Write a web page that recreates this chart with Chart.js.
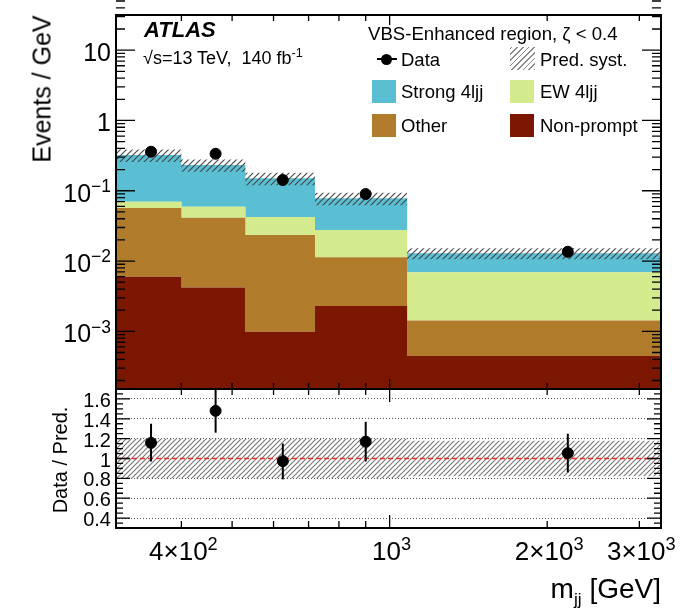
<!DOCTYPE html>
<html>
<head>
<meta charset="utf-8">
<script src="https://cdn.jsdelivr.net/npm/chart.js@4.4.1/dist/chart.umd.min.js"></script>
<style>
  body { margin: 0; background: #fff; width: 682px; height: 608px; overflow: hidden; position: relative;
         font-family: "Liberation Sans", Arial, Helvetica, sans-serif; }
  canvas { position: absolute; left: 0; }
  .lbl { position: absolute; white-space: nowrap; color: #000; line-height: 1; }
  .lbl sup { font-size: 0.7em; vertical-align: 0; position: relative; top: -0.55em; }
  .sw { position: absolute; }
</style>
</head>
<body>
<canvas id="mainChart" width="682" height="400" style="top:0"></canvas>
<canvas id="ratioChart" width="682" height="228" style="top:380px"></canvas>
<script>
// m_jj bins (GeV)
const binEdges = [300, 400, 530, 720, 1080, 3300];

// Events / GeV per process
const nonPrompt = [0.0060, 0.0042, 0.00099, 0.0023, 0.000445];
const other = [0.0508, 0.0371, 0.0224, 0.0090, 0.00098];
const ew4ljj = [0.0130, 0.0179, 0.0189, 0.0163, 0.0055];
const strong4ljj = [0.252, 0.173, 0.108, 0.0504, 0.0060];
const predSyst = [0.20, 0.20, 0.20, 0.20, 0.18];

// data
const dataX = [350, 465, 625, 900, 2190];
const dataY = [0.359, 0.336, 0.142, 0.0898, 0.01356];
const ratio = [1.157, 1.48, 0.973, 1.17, 1.054];
const ratioLo = [0.97, 1.26, 0.79, 0.97, 0.86];
const ratioHi = [1.35, 1.72, 1.15, 1.37, 1.25];

// axis labels
const yTicksMain = [10, 1, 0.1, 0.01, 0.001];
const yLabelsMain = ["10", "1", "10<sup>&minus;1</sup>", "10<sup>&minus;2</sup>", "10<sup>&minus;3</sup>"];
const ratioTicks = [0.4, 0.6, 0.8, 1, 1.2, 1.4, 1.6];
const ratioLabels = ["0.4", "0.6", "0.8", "1", "1.2", "1.4", "1.6"];
const xTicks = [400, 1000, 2000, 3000];
const xLabels = ["4&times;10<sup>2</sup>", "10<sup>3</sup>", "2&times;10<sup>3</sup>", "3&times;10<sup>3</sup>"];

const colors = {
  strong: "#5bbfd3",
  ew: "#d3eb8c",
  other: "#b07c2c",
  nonPrompt: "#7b1700",
};

function hatch(color, size) {
  const c = document.createElement("canvas");
  c.width = c.height = size;
  const g = c.getContext("2d");
  g.strokeStyle = color;
  g.lineWidth = 1.1;
  g.beginPath();
  g.moveTo(0, size); g.lineTo(size, 0);
  g.moveTo(-1, 1); g.lineTo(1, -1);
  g.moveTo(size - 1, size + 1); g.lineTo(size + 1, size - 1);
  g.stroke();
  return g.createPattern(c, "repeat");
}

// step points: value i spans binEdges[i]..binEdges[i+1]
function steps(vals) {
  const pts = vals.map((v, i) => ({ x: binEdges[i], y: v }));
  pts.push({ x: binEdges[binEdges.length - 1], y: vals[vals.length - 1] });
  return pts;
}

const cumNP = nonPrompt.slice();
const cumOther = cumNP.map((v, i) => v + other[i]);
const cumEW = cumOther.map((v, i) => v + ew4ljj[i]);
const total = cumEW.map((v, i) => v + strong4ljj[i]);

function fillSet(vals, color, fill) {
  return {
    type: "line", data: steps(vals), stepped: true, fill: fill,
    backgroundColor: color, borderColor: "rgba(0,0,0,0)", borderWidth: 1,
    pointRadius: 0, order: 10,
  };
}

// inside tick marks + frame
const frameTicks = {
  id: "frameTicks",
  afterDraw(chart, args, opts) {
    const { ctx, chartArea: a, scales } = chart;
    const xs = scales.x, ys = scales.y;
    ctx.save();
    ctx.strokeStyle = "#000";
    ctx.lineWidth = 1.3;
    ctx.beginPath();
    opts.xMinor.forEach(v => {
      const px = xs.getPixelForValue(v);
      if (opts.top) { ctx.moveTo(px, a.top); ctx.lineTo(px, a.top + opts.top[0]); }
      ctx.moveTo(px, a.bottom); ctx.lineTo(px, a.bottom - opts.bottom[0]);
    });
    opts.xMajor.forEach(v => {
      const px = xs.getPixelForValue(v);
      if (opts.top) { ctx.moveTo(px, a.top); ctx.lineTo(px, a.top + opts.top[1]); }
      ctx.moveTo(px, a.bottom); ctx.lineTo(px, a.bottom - opts.bottom[1]);
    });
    opts.yMinor.forEach(v => {
      const py = ys.getPixelForValue(v);
      ctx.moveTo(a.left, py); ctx.lineTo(a.left + opts.side[0], py);
      ctx.moveTo(a.right, py); ctx.lineTo(a.right - opts.side[0], py);
    });
    opts.yMajor.forEach(v => {
      const py = ys.getPixelForValue(v);
      ctx.moveTo(a.left, py); ctx.lineTo(a.left + opts.side[1], py);
      ctx.moveTo(a.right, py); ctx.lineTo(a.right - opts.side[1], py);
    });
    ctx.stroke();
    ctx.lineWidth = 2;
    ctx.strokeRect(a.left, a.top, a.right - a.left, a.bottom - a.top);
    ctx.restore();
  },
};

const xMinorTicks = [400, 500, 600, 700, 800, 900, 2000, 3000];
const yMinorMain = [];
for (let d = -4; d <= 1; d++) {
  for (let k = 2; k <= 9; k++) yMinorMain.push(k * Math.pow(10, d));
}
const yMinorRatio = [];
for (let v = 0.35; v < 1.7; v += 0.05) yMinorRatio.push(Math.round(v * 100) / 100);

const hatchMain = hatch("#444", 6);
const hatchRatio = hatch("#777", 5);

const mainChart = new Chart(document.getElementById("mainChart"), {
  type: "line",
  data: {
    datasets: [
      fillSet(cumNP, colors.nonPrompt, "start"),
      fillSet(cumOther, colors.other, "-1"),
      fillSet(cumEW, colors.ew, "-1"),
      fillSet(total, colors.strong, "-1"),
      { type: "line", data: steps(total.map((v, i) => v * (1 - predSyst[i]))), stepped: true, fill: false,
        borderColor: "rgba(0,0,0,0)", pointRadius: 0, order: 5 },
      { type: "line", data: steps(total.map((v, i) => v * (1 + predSyst[i]))), stepped: true, fill: "-1",
        backgroundColor: hatchMain, borderColor: "rgba(0,0,0,0)", pointRadius: 0, order: 5 },
      { type: "scatter", data: dataX.map((x, i) => ({ x: x, y: dataY[i] })),
        pointRadius: 5.5, backgroundColor: "#000", borderColor: "#000", order: 0 },
    ],
  },
  options: {
    responsive: false,
    animation: false,
    layout: { padding: { left: 116, right: 21, top: 15, bottom: 11 } },
    scales: {
      x: { type: "logarithmic", min: 300, max: 3300, display: false },
      y: { type: "logarithmic", min: Math.pow(10, -3.82), max: Math.pow(10, 1.5), display: false },
    },
    plugins: {
      legend: { display: false },
      tooltip: { enabled: false },
      frameTicks: {
        xMajor: [1000], xMinor: xMinorTicks,
        yMajor: yTicksMain, yMinor: yMinorMain,
        top: [6, 10], bottom: [6, 10], side: [9, 19],
      },
    },
  },
  plugins: [frameTicks],
});

const ratioDatasets = [
  { type: "line", data: steps(predSyst.map(s => 1 - s)), stepped: true, fill: false,
    borderColor: "rgba(0,0,0,0)", pointRadius: 0, order: 5 },
  { type: "line", data: steps(predSyst.map(s => 1 + s)), stepped: true, fill: "-1",
    backgroundColor: hatchRatio, borderColor: "rgba(0,0,0,0)", pointRadius: 0, order: 5 },
  { type: "line", data: [{ x: binEdges[0], y: 1 }, { x: binEdges[binEdges.length - 1], y: 1 }],
    borderColor: "#e8302a", borderWidth: 1.3, borderDash: [5, 3], pointRadius: 0, fill: false, order: 3 },
];
dataX.forEach((x, i) => {
  ratioDatasets.push({
    type: "line", data: [{ x: x, y: ratioLo[i] }, { x: x, y: ratioHi[i] }],
    borderColor: "#000", borderWidth: 2, pointRadius: 0, fill: false, order: 1,
  });
});
ratioDatasets.push({
  type: "scatter", data: dataX.map((x, i) => ({ x: x, y: ratio[i] })),
  pointRadius: 5.5, backgroundColor: "#000", borderColor: "#000", order: 0,
});

const ratioChart = new Chart(document.getElementById("ratioChart"), {
  type: "line",
  data: { datasets: ratioDatasets },
  options: {
    responsive: false,
    animation: false,
    layout: { padding: { left: 116, right: 21, top: 9, bottom: 80 } },
    scales: {
      x: { type: "logarithmic", min: 300, max: 3300, display: false },
      y: {
        type: "linear", min: 0.3, max: 1.7, display: true,
        afterBuildTicks: s => { s.ticks = ratioTicks.filter(v => v !== 1).map(v => ({ value: v })); },
        afterFit: s => { s.width = 0; },
        ticks: { display: false },
        grid: { color: "#555", lineWidth: 1, drawTicks: false },
        border: { display: false, dash: [1, 2] },
      },
    },
    plugins: {
      legend: { display: false },
      tooltip: { enabled: false },
      frameTicks: {
        xMajor: [1000], xMinor: xMinorTicks,
        yMajor: ratioTicks, yMinor: yMinorRatio,
        top: [6, 13], bottom: [7, 13], side: [7, 14],
      },
    },
  },
  plugins: [frameTicks],
});

// text labels
function label(html, x, y, size, align) {
  const d = document.createElement("div");
  d.className = "lbl";
  d.innerHTML = html;
  d.style.fontSize = size + "px";
  d.style.left = x + "px";
  d.style.top = y + "px";
  const tx = align === "right" ? "-100%" : align === "center" ? "-50%" : "0";
  d.style.transform = "translate(" + tx + ",-50%)";
  document.body.appendChild(d);
  return d;
}

yTicksMain.forEach((v, i) => {
  label(yLabelsMain[i], 111, mainChart.scales.y.getPixelForValue(v) + 2, 25, "right");
});
ratioTicks.forEach((v, i) => {
  label(ratioLabels[i], 111, 380 + ratioChart.scales.y.getPixelForValue(v) + 1, 20, "right");
});
xTicks.forEach((v, i) => {
  label(xLabels[i], ratioChart.scales.x.getPixelForValue(v) + 2, 551, 26, "center");
});

const ev = label("Events / GeV", 42, 89, 25, "center");
ev.style.transform = "translate(-50%,-50%) rotate(-90deg)";
const dp = label("Data / Pred.", 60, 460, 20, "center");
dp.style.transform = "translate(-50%,-50%) rotate(-90deg)";
label("m<span style=\"font-size:0.62em;position:relative;top:0.4em\">jj</span> [GeV]", 661, 589, 28, "right");

label("<b><i>ATLAS</i></b>", 144, 30, 22, "left");
label("&radic;s=13 TeV,&nbsp; 140 fb<sup>-1</sup>", 143, 58, 18, "left");
label("VBS-Enhanced region, &zeta; &lt; 0.4", 368, 34, 18.6, "left");

// legend
function swatch(x, y, w, h, bg) {
  const s = document.createElement("div");
  s.className = "sw";
  s.style.left = x + "px"; s.style.top = y + "px";
  s.style.width = w + "px"; s.style.height = h + "px";
  s.style.background = bg;
  document.body.appendChild(s);
}
swatch(377, 58, 20, 2, "#000");
const dot = document.createElement("div");
dot.className = "sw";
Object.assign(dot.style, { left: "381px", top: "53.5px", width: "11px", height: "11px", borderRadius: "50%", background: "#000" });
document.body.appendChild(dot);
label("Data", 401, 60, 18.5, "left");
swatch(510, 47, 25, 23, "repeating-linear-gradient(-45deg, #888 0 1px, #fff 1px 4px)");
label("Pred. syst.", 540, 60, 18.5, "left");
swatch(372, 80, 24, 23, colors.strong);
label("Strong 4ljj", 401, 92, 18.5, "left");
swatch(510, 80, 24, 23, colors.ew);
label("EW 4ljj", 540, 92, 18.5, "left");
swatch(372, 114, 24, 23, colors.other);
label("Other", 401, 126, 18.5, "left");
swatch(510, 114, 24, 23, colors.nonPrompt);
label("Non-prompt", 540, 126, 18.5, "left");
</script>
</body>
</html>
